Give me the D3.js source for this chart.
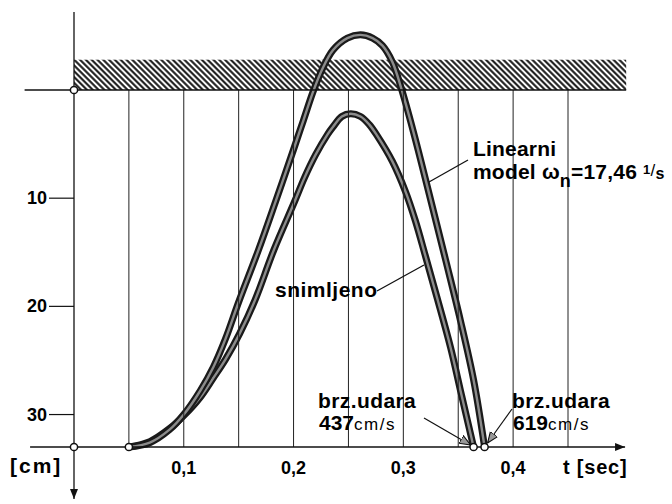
<!DOCTYPE html>
<html lang="hr">
<head>
<meta charset="UTF-8">
<title>Linearni model i snimljeno</title>
<script src="https://d3js.org/d3.v7.min.js"></script>
<style>
  body { margin: 0; background: #fff; }
  svg { display: block; font-family: "Liberation Sans", Arial, sans-serif; font-weight: bold; }
</style>
</head>
<body>
<svg id="main" width="672" height="504"></svg>
<script>
// recorded path (snimljeno), t in sec, depth in cm
const recT  = [0.050, 0.069, 0.087, 0.100, 0.115, 0.127, 0.138, 0.151, 0.165, 0.182, 0.201, 0.210, 0.220,
               0.231, 0.236, 0.244, 0.252, 0.261, 0.269, 0.276, 0.290, 0.302, 0.311, 0.320, 0.331, 0.343, 0.353, 0.364];
const recCm = [33.0, 32.5, 31.3, 30.1, 28.4, 26.6, 24.9, 22.5, 19.4, 14.8, 10.3, 8.1, 6.0,
               4.1, 3.4, 2.45, 2.2, 2.45, 3.2, 4.2, 6.6, 9.4, 12.1, 15.3, 19.3, 23.8, 28.2, 33.0];

// linear model, wn = 17.46 1/s
const modelT  = [0.050, 0.069, 0.087, 0.100, 0.115, 0.127, 0.138, 0.150, 0.168, 0.184, 0.200, 0.209, 0.218, 0.226,
                 0.236, 0.249, 0.261, 0.272, 0.281, 0.290, 0.298, 0.309, 0.325, 0.339, 0.352, 0.364, 0.374];
const modelCm = [33.0, 32.6, 31.4, 30.0, 27.8, 25.6, 23.0, 19.6, 14.8, 10.2, 5.5, 2.8, 0.1, -1.9,
                 -3.7, -4.8, -5.1, -4.8, -4.1, -2.6, -0.2, 3.8, 10.2, 15.9, 21.3, 26.8, 33.0];

const gridT = [0.05, 0.10, 0.15, 0.20, 0.25, 0.30, 0.35, 0.40, 0.45];
const xTicks = [0.1, 0.2, 0.3, 0.4];
const xTickLabels = ["0,1", "0,2", "0,3", "0,4"];
const yTicks = [10, 20, 30];
const yTickLabels = ["10", "20", "30"];

const startT = 0.050;
const floorCm = 33.0;
const impactT = [0.364, 0.374];
const impactSpeed = ["437", "619"];
const wallTopCm = -2.8;

const svg = d3.select("#main");
const x = d3.scaleLinear().domain([0, 0.45]).range([74, 568]);
const y = d3.scaleLinear().domain([0, floorCm]).range([90, 447]);

const defs = svg.append("defs");
defs.append("pattern")
    .attr("id", "hatch")
    .attr("patternUnits", "userSpaceOnUse")
    .attr("width", 4.1).attr("height", 4.1)
    .attr("patternTransform", "rotate(45)")
  .append("line")
    .attr("x1", 0).attr("y1", 2.05).attr("x2", 4.1).attr("y2", 2.05)
    .attr("stroke", "#111").attr("stroke-width", 2);

defs.append("marker")
    .attr("id", "axisArrow")
    .attr("viewBox", "0 0 10 10")
    .attr("refX", 10).attr("refY", 5)
    .attr("markerWidth", 10).attr("markerHeight", 10)
    .attr("markerUnits", "userSpaceOnUse")
    .attr("orient", "auto")
  .append("path")
    .attr("d", "M0,1 L10,5 L0,9 Z")
    .attr("fill", "#111");

defs.append("marker")
    .attr("id", "noteArrow")
    .attr("viewBox", "0 0 10 10")
    .attr("refX", 10).attr("refY", 5)
    .attr("markerWidth", 11).attr("markerHeight", 11)
    .attr("markerUnits", "userSpaceOnUse")
    .attr("orient", "auto")
  .append("path")
    .attr("d", "M0,1 L10,5 L0,9 Z")
    .attr("fill", "#999").attr("stroke", "#111").attr("stroke-width", 1);

// hatched wall
svg.append("rect")
    .attr("x", x(0)).attr("y", y(wallTopCm))
    .attr("width", x(0.503) - x(0)).attr("height", y(0) - y(wallTopCm))
    .attr("fill", "url(#hatch)");

// curves (double stroke look)
const line = d3.line()
    .x(d => x(d[0])).y(d => y(d[1]))
    .curve(d3.curveCatmullRom.alpha(0.5));

const series = [d3.zip(recT, recCm), d3.zip(modelT, modelCm)];
series.forEach(s => {
  svg.append("path").attr("d", line(s))
     .attr("fill", "none").attr("stroke", "#1a1a1a").attr("stroke-width", 7)
     .attr("stroke-linecap", "round");
  svg.append("path").attr("d", line(s))
     .attr("fill", "none").attr("stroke", "#8c8c8c").attr("stroke-width", 2.4);
});

// vertical grid
svg.append("g").selectAll("line")
  .data(gridT).join("line")
    .attr("x1", d => x(d)).attr("x2", d => x(d))
    .attr("y1", y(0)).attr("y2", y(floorCm))
    .attr("stroke", "#222").attr("stroke-width", 1);

// axes
svg.append("line")
    .attr("x1", x(0)).attr("x2", x(0))
    .attr("y1", y(-7.2)).attr("y2", y(37.8))
    .attr("stroke", "#111").attr("stroke-width", 1.3)
    .attr("marker-end", "url(#axisArrow)");
svg.append("line")
    .attr("x1", x(-0.04)).attr("x2", x(0.502))
    .attr("y1", y(floorCm)).attr("y2", y(floorCm))
    .attr("stroke", "#111").attr("stroke-width", 1.5)
    .attr("marker-end", "url(#axisArrow)");
svg.append("line")
    .attr("x1", x(-0.045)).attr("x2", x(0.503))
    .attr("y1", y(0)).attr("y2", y(0))
    .attr("stroke", "#111").attr("stroke-width", 1.5);

// y ticks
svg.append("g").selectAll("line")
  .data(yTicks).join("line")
    .attr("x1", x(0) - 25).attr("x2", x(0))
    .attr("y1", d => y(d)).attr("y2", d => y(d))
    .attr("stroke", "#111").attr("stroke-width", 1.2);
svg.append("g").selectAll("text")
  .data(yTicks).join("text")
    .attr("x", x(0) - 27).attr("y", d => y(d) + 6)
    .attr("text-anchor", "end")
    .attr("font-size", 18)
    .text((d, i) => yTickLabels[i]);

// x tick labels
svg.append("g").selectAll("text")
  .data(xTicks).join("text")
    .attr("x", d => x(d)).attr("y", y(floorCm) + 27)
    .attr("text-anchor", "middle")
    .attr("font-size", 18)
    .text((d, i) => xTickLabels[i]);

svg.append("text").attr("x", 10).attr("y", y(floorCm) + 26)
    .attr("font-size", 21).attr("letter-spacing", 2).text("[cm]");
svg.append("text").attr("x", 563).attr("y", y(floorCm) + 27)
    .attr("font-size", 20).attr("letter-spacing", 0.8).text("t [sec]");

// small open circles
const dots = [[0, 0], [0, floorCm], [startT, floorCm], [impactT[0], floorCm], [impactT[1], floorCm]];
svg.append("g").selectAll("circle")
  .data(dots).join("circle")
    .attr("cx", d => x(d[0])).attr("cy", d => y(d[1])).attr("r", 3.6)
    .attr("fill", "#fff").attr("stroke", "#111").attr("stroke-width", 1.5);

// annotations
const note = svg.append("g").attr("font-size", 21);

note.append("text").attr("x", 473).attr("y", 156).attr("letter-spacing", 0.2).text("Linearni");
const mod = note.append("text").attr("x", 473).attr("y", 179).attr("letter-spacing", 0.2);
mod.append("tspan").text("model ω");
mod.append("tspan").attr("dy", 8).attr("font-size", 18).text("n");
mod.append("tspan").attr("dy", -8).text("=17,46 ");
mod.append("tspan").attr("dy", -5).attr("font-size", 13).text("1");
mod.append("tspan").attr("dy", 2).attr("font-size", 17).attr("font-weight", "normal").text("/");
mod.append("tspan").attr("dy", 3).attr("font-size", 16).text("s");

note.append("line").attr("x1", 468).attr("y1", 160).attr("x2", 429).attr("y2", 182)
    .attr("stroke", "#111").attr("stroke-width", 1.3);

note.append("text").attr("x", 275).attr("y", 297).attr("letter-spacing", 0.5).text("snimljeno");
note.append("line").attr("x1", 377).attr("y1", 291).attr("x2", 424).attr("y2", 265)
    .attr("stroke", "#111").attr("stroke-width", 1.3);

const speedX = [318, 512];
impactSpeed.forEach((v, i) => {
  note.append("text").attr("x", speedX[i]).attr("y", 408).attr("letter-spacing", 0.4).text("brz.udara");
  const t = note.append("text").attr("x", speedX[i] + 1).attr("y", 430);
  t.append("tspan").text(v);
  t.append("tspan").attr("font-size", 17).attr("font-weight", "normal")
      .attr("letter-spacing", 1.5).text("cm/s");
});

note.append("line").attr("x1", 424).attr("y1", 418).attr("x2", x(impactT[0]) - 3).attr("y2", y(floorCm) - 2)
    .attr("stroke", "#111").attr("stroke-width", 1.2).attr("marker-end", "url(#noteArrow)");
note.append("line").attr("x1", 512).attr("y1", 409).attr("x2", x(impactT[1]) + 3).attr("y2", y(floorCm) - 4)
    .attr("stroke", "#111").attr("stroke-width", 1.2).attr("marker-end", "url(#noteArrow)");
</script>
</body>
</html>
